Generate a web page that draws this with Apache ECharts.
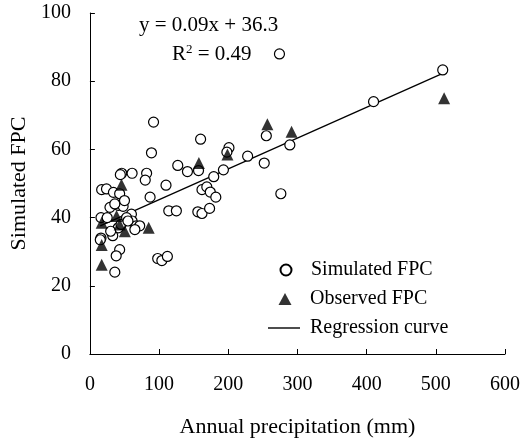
<!DOCTYPE html>
<html><head><meta charset="utf-8">
<script src="https://cdn.jsdelivr.net/npm/echarts@6/dist/echarts.min.js"></script>
<style>html,body{margin:0;padding:0;background:#fff}#c{width:523px;height:443px}</style>
</head><body><div id="c"></div>
<script>
var xTicks = [0, 100, 200, 300, 400, 500, 600];
var yTicks = [0, 20, 40, 60, 80, 100];
var simulatedX = [92,160,89,46,61,82,80,127,141,157,179,110,17,24,34,43,44,87,162,169,174,182,114,125,156,162,173,29,41,48,16,60,61,67,72,41,16,33,43,38,36,98,104,112,201,198,255,289,228,252,193,276,274,510,410,45,53,36,25,15,30,55,65,50];
var simulatedY = [68,63,59,53,53,53,51,55.3,53.5,53.8,52,49.5,48.2,48.4,47.4,47,52.6,46,48.2,49,47.5,46,42,42,41.7,41.2,42.7,43,43.6,43.3,40,41,39,37.6,37.6,37,34,34.7,30.6,28.8,24,28,27.4,28.6,60.5,59.2,64,61.3,58,56,54,47,88,83.3,74,38,40,44,40,33.5,36,39,36.5,45];
var observedX = [45.7,157.5,17,38.5,43,50.5,85,17,17,256.5,291.5,198.8,512];
var observedY = [49.6,56,38.5,40.5,38,36,37,32,26.2,67.4,65.2,58.5,75];
var regressionX = [15, 510];
var regressionY = [37.6, 82.3];

function zip(a, b) { return a.map(function (v, i) { return [v, b[i]]; }); }
var font = 'Liberation Serif';
function lt(pad) { return { fontFamily: font, fontSize: 20, color: '#000', padding: [0, 0, 0, pad] }; }
var chart = echarts.init(document.getElementById('c'));
chart.setOption({
  animation: false,
  grid: { left: 86, right: 16, top: 13, bottom: 89 },
  xAxis: {
    type: 'value', min: 0, max: 600, interval: 100,
    name: 'Annual precipitation (mm)', nameLocation: 'middle', nameGap: 62,
    nameTextStyle: { fontFamily: font, fontSize: 22, color: '#000' },
    axisLine: { lineStyle: { color: '#000', width: 1 } },
    axisTick: { inside: true, length: 5, lineStyle: { color: '#000' } },
    axisLabel: { fontFamily: font, fontSize: 20, color: '#000', margin: 21 },
    splitLine: { show: false }
  },
  yAxis: {
    type: 'value', min: 0, max: 100, interval: 20,
    name: 'Simulated FPC', nameLocation: 'middle', nameGap: 50,
    nameTextStyle: { fontFamily: font, fontSize: 22, color: '#000' },
    axisLine: { show: true, lineStyle: { color: '#000', width: 1 } },
    axisTick: { show: true, inside: true, length: 5, lineStyle: { color: '#000' } },
    axisLabel: { fontFamily: font, fontSize: 20, color: '#000', margin: 19 },
    splitLine: { show: false }
  },
  legend: [
    { left: 279.5, top: 260, padding: 0, itemWidth: 11, itemHeight: 11, textStyle: lt(14.5), selectedMode: false,
      data: [{ name: 'Simulated FPC', icon: 'circle' }] },
    { left: 278.5, top: 289, padding: 0, itemWidth: 13, itemHeight: 12, textStyle: lt(13.5), selectedMode: false,
      data: [{ name: 'Observed FPC', icon: 'triangle' }] },
    { left: 268, top: 318, padding: 0, itemWidth: 32, itemHeight: 1.4, textStyle: lt(5), selectedMode: false,
      data: [{ name: 'Regression curve', icon: 'rect' }] }
  ],
  graphic: [
    { type: 'text', left: 139, top: 15, style: { text: 'y = 0.09x + 36.3', font: '21px "Liberation Serif"', fill: '#000' } },
    { type: 'text', left: 172, top: 43, style: { rich: { s: { fontSize: 13, fontFamily: font, verticalAlign: 'top', padding: [0,0,10,0] } }, text: 'R{s|2} = 0.49', font: '21px "Liberation Serif"', fill: '#000' } }
  ],
  series: [
    { name: 'Regression curve', type: 'line', data: zip(regressionX, regressionY), symbol: 'none', lineStyle: { color: '#000', width: 1.3 }, itemStyle: { color: '#000' }, z: 1 },
    { name: 'Simulated FPC', type: 'scatter', data: zip(simulatedX, simulatedY), symbol: 'circle', symbolSize: 10,
      itemStyle: { color: '#fff', borderColor: '#000', borderWidth: 1.2, opacity: 1 }, z: 2 },
    { name: 'Observed FPC', type: 'scatter', data: zip(observedX, observedY), symbol: 'triangle', symbolSize: 12,
      itemStyle: { color: '#000' }, z: 3 }
  ]
});
</script></body></html>
